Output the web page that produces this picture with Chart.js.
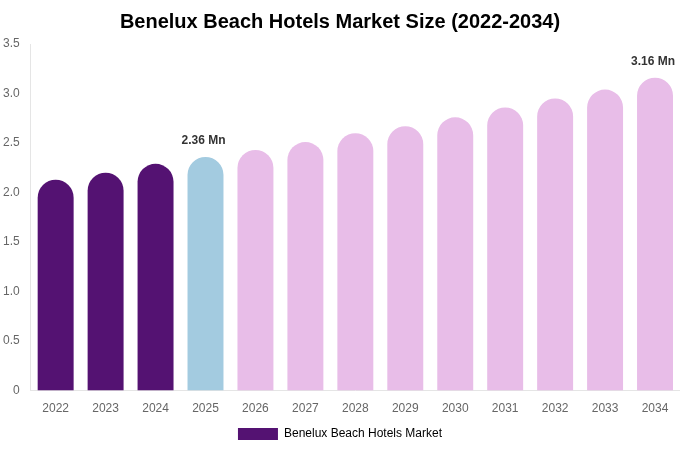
<!DOCTYPE html>
<html>
<head>
<meta charset="utf-8">
<script src="https://cdn.jsdelivr.net/npm/chart.js@4"></script>
<style>
  body { margin: 0; background: #fff; }
  #wrap { width: 680px; height: 450px; }
</style>
</head>
<body>
<div id="wrap"><canvas id="myChart"></canvas></div>
<script>
const years = ['2022', '2023', '2024', '2025', '2026', '2027', '2028', '2029', '2030', '2031', '2032', '2033', '2034'];
const marketSize = [2.13, 2.2, 2.29, 2.36, 2.43, 2.51, 2.6, 2.67, 2.76, 2.86, 2.95, 3.04, 3.16];
const barColors = ['#541272', '#541272', '#541272', '#a3cbe0', '#e8bde8', '#e8bde8', '#e8bde8', '#e8bde8', '#e8bde8', '#e8bde8', '#e8bde8', '#e8bde8', '#e8bde8'];
const labelled = [3, 12];

Chart.defaults.font.family = '"Liberation Sans", Arial, sans-serif';

// only a couple of bars carry a value label
const valueLabels = {
    id: 'valueLabels',
    afterDatasetsDraw(chart) {
        const ctx = chart.ctx;
        const meta = chart.getDatasetMeta(0);
        ctx.save();
        ctx.font = 'bold 12px "Liberation Sans", Arial, sans-serif';
        ctx.fillStyle = '#333';
        ctx.textAlign = 'center';
        ctx.textBaseline = 'bottom';
        labelled.forEach(i => {
            const bar = meta.data[i];
            ctx.fillText(marketSize[i].toFixed(2) + ' Mn', bar.x - 2, bar.y - 10);
        });
        ctx.restore();
    }
};

const data = {
    labels: years,
    datasets: [{
        label: 'Benelux Beach Hotels Market',
        data: marketSize,
        backgroundColor: barColors,
        borderRadius: { topLeft: 18, topRight: 18 },
        borderSkipped: 'bottom',
        barPercentage: 0.8,
        categoryPercentage: 0.9
    }]
};

const config = {
    type: 'bar',
    data: data,
    plugins: [valueLabels],
    options: {
        responsive: true,
        maintainAspectRatio: false,
        animation: false,
        layout: { padding: 0 },
        plugins: {
            title: {
                display: true,
                text: 'Benelux Beach Hotels Market Size (2022-2034)',
                color: '#000',
                font: { size: 20, weight: 'bold' },
                padding: { top: 10, bottom: 10 }
            },
            legend: {
                position: 'bottom',
                labels: {
                    color: '#666',
                    font: { size: 12 },
                    boxWidth: 40,
                    boxHeight: 12,
                    padding: 9,
                    generateLabels: () => [{
                        text: 'Benelux Beach Hotels Market',
                        fillStyle: '#541272',
                        strokeStyle: '#541272',
                        lineWidth: 0,
                        datasetIndex: 0
                    }]
                }
            },
            tooltip: { enabled: false }
        },
        scales: {
            x: {
                grid: { display: false },
                border: { color: '#e5e5e5' },
                ticks: { color: '#666', font: { size: 12 }, padding: 3 }
            },
            y: {
                min: 0,
                max: 3.5,
                grid: { display: false },
                border: { color: '#e5e5e5' },
                ticks: {
                    stepSize: 0.5,
                    color: '#666',
                    font: { size: 12 },
                    callback: v => v === 0 ? '0' : v.toFixed(1)
                }
            }
        }
    }
};

const myChart = new Chart(document.getElementById('myChart'), config);
</script>
</body>
</html>
